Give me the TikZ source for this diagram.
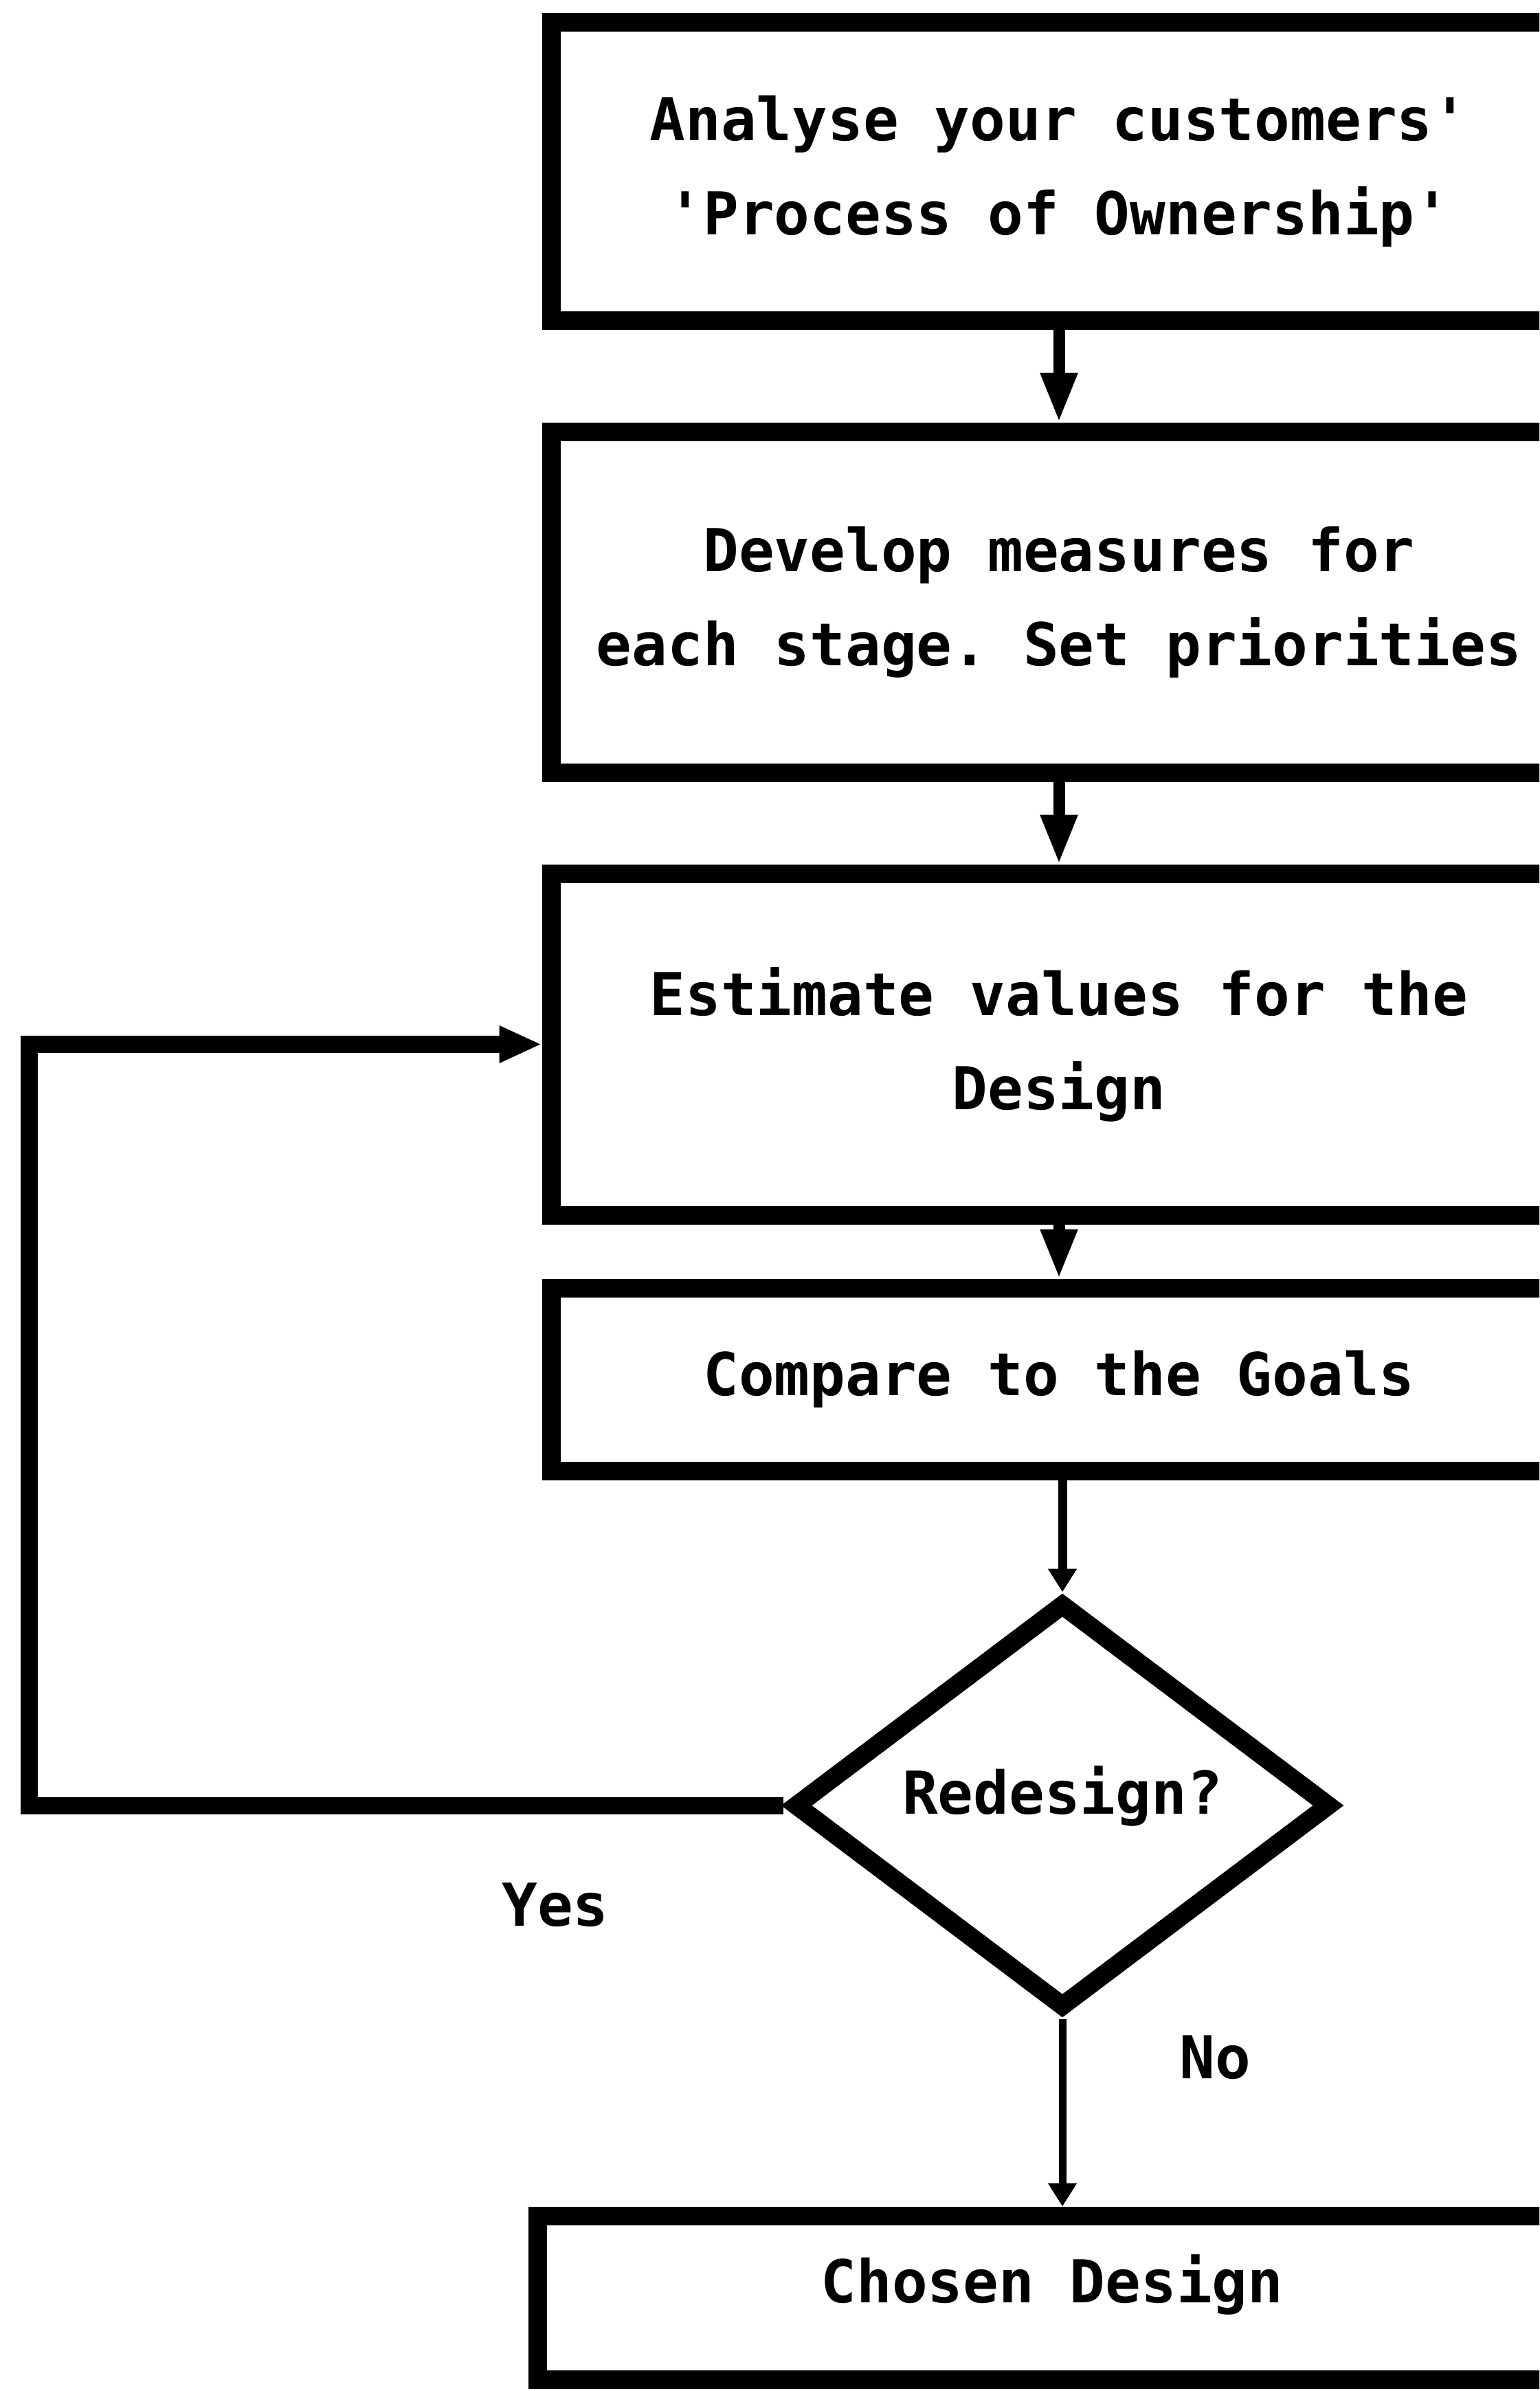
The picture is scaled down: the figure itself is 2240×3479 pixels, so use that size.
\documentclass[tikz,border=0pt]{standalone}
\usepackage{fontspec}
\newfontfamily\pf{DejaVu Sans Mono}
\usetikzlibrary{shapes.geometric,arrows.meta}
\begin{document}
\frenchspacing
\begin{tikzpicture}[x=1pt,y=-1pt,
  txt/.style={font=\pf\bfseries\fontsize{86}{137}\selectfont},
  box/.style={txt, draw, line width=27pt, line join=miter, rectangle, align=center, inner sep=0pt, minimum width=1478pt},
  dec/.style={txt, draw, line width=27pt, diamond, inner sep=0pt, minimum width=785pt, minimum height=594pt, aspect=1.32},
  arr/.style={line width=17pt, -{Triangle[length=72pt,width=50pt]}},
  thinarr/.style={line width=13pt, -{Triangle[length=34pt,width=40pt]}},
  loopline/.style={line width=25pt, line join=miter, -{Triangle[length=62pt,width=50pt]}},
  lbl/.style={txt, inner sep=0pt}
]
\useasboundingbox (0,0) rectangle (2240,3479);
\clip (0,0) rectangle (2240,3479);
\fill[white] (0,0) rectangle (2240,3479);

\node[box, minimum height=433pt] (b1) at (1541,249.5) {Analyse your customers'\\'Process of Ownership'};
\node[box, minimum height=496pt] (b2) at (1541,876) {Develop measures for\\each stage. Set priorities};
\node[box, minimum height=497pt] (b3) at (1541,1519.5) {Estimate values for the\\Design};
\node[box, minimum height=266pt] (b4) at (1541,2007) {Compare to the Goals};
\node[dec, text depth=45pt] (d) at (1546,2627) {Redesign?};
\node[box, minimum width=1498pt, minimum height=238pt, text depth=55pt] (b5) at (1531,3343) {Chosen Design};

\node[lbl] (yes) at (808,2772) {Yes};
\node[lbl] (no) at (1768,2994) {No};

\coordinate (lx) at (42,0);

\draw[arr] (b1.south) -- (b2.north);
\draw[arr] (b2.south) -- (b3.north);
\draw[arr] (b3.south) -- (b4.north);
\draw[thinarr] (b4.south -| d.north) -- (d.north);
\draw[thinarr, line width=11pt] (d.south) -- (d.south |- b5.north);
\draw[loopline] (d.west) -- (d.west -| lx) |- (b3.west);
\end{tikzpicture}
\end{document}
